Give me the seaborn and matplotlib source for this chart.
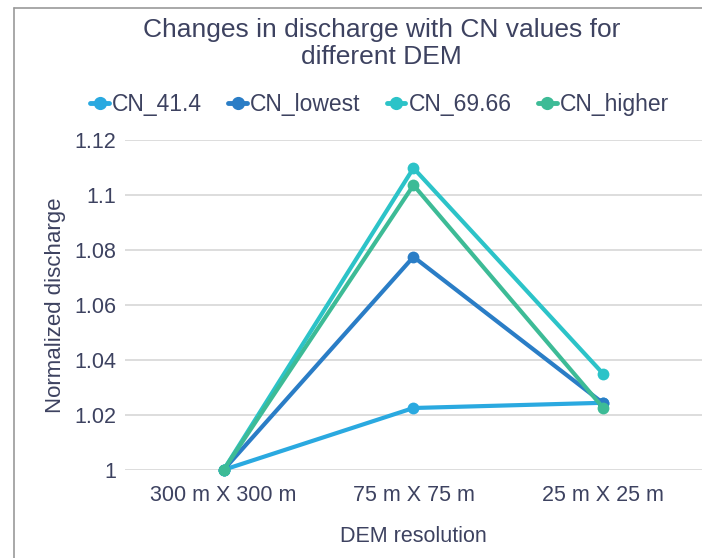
import matplotlib
matplotlib.use("Agg")
import matplotlib.pyplot as plt
from matplotlib.lines import Line2D
import seaborn as sns
import pandas as pd

# Normalized discharge for each CN scenario across DEM resolutions
resolutions = ["300 m X 300 m", "75 m X 75 m", "25 m X 25 m"]
series_names = ["CN_41.4", "CN_lowest", "CN_69.66", "CN_higher"]
cn_41_4 = [1.0, 1.0225, 1.0244]
cn_lowest = [1.0, 1.0775, 1.0242]
cn_69_66 = [1.0, 1.1098, 1.0349]
cn_higher = [1.0, 1.1036, 1.0225]
y_ticks = [1, 1.02, 1.04, 1.06, 1.08, 1.1, 1.12]
y_tick_labels = ["1", "1.02", "1.04", "1.06", "1.08", "1.1", "1.12"]

colors = ["#2aa9e0", "#2a7dc6", "#2cc3c8", "#3dbb96"]
text_color = "#3d4260"

frames = []
for name, vals in zip(series_names, [cn_41_4, cn_lowest, cn_69_66, cn_higher]):
    frames.append(pd.DataFrame({"DEM": resolutions, "value": vals, "series": name}))
df = pd.concat(frames, ignore_index=True)

sns.set_theme(style="white")
plt.rcParams["font.family"] = ["Liberation Sans", "DejaVu Sans"]

fig = plt.figure(figsize=(7.02, 5.58), dpi=100)
ax = fig.add_axes([0.178, 0.158, 0.822, 0.591])

sns.lineplot(data=df, x="DEM", y="value", hue="series", hue_order=series_names,
             palette=colors, marker="o", markersize=8.5, markeredgewidth=0,
             linewidth=3.0, sort=False, legend=False, ax=ax)

ax.set_xlim(-0.52, 2.52)
ax.set_ylim(1.0, 1.12)
ax.set_yticks(y_ticks)
ax.set_yticklabels(y_tick_labels)
ax.grid(axis="y", color="#dadada", linewidth=1.3)
ax.set_axisbelow(True)
for s in ax.spines.values():
    s.set_visible(False)
ax.tick_params(axis="both", length=0, labelsize=15.5, colors=text_color)
ax.tick_params(axis="y", pad=6)
ax.tick_params(axis="x", pad=11)
for lbl in ax.get_xticklabels() + ax.get_yticklabels():
    lbl.set_color(text_color)
ax.set_xlabel("DEM resolution", fontsize=15.5, color=text_color, labelpad=14)
ax.set_ylabel("Normalized discharge", fontsize=16, color=text_color, labelpad=6)
for line in ax.lines:
    line.set_clip_on(False)

fig.text(0.5435, 0.922, "Changes in discharge with CN values for\ndifferent DEM",
         ha="center", va="center", fontsize=19, color=text_color, linespacing=1.2)

handles = [Line2D([0], [0], color=c, marker="o", markersize=9.5, markeredgewidth=0,
                  linewidth=3.5) for c in colors]
fig.legend(handles, series_names, loc="center", bbox_to_anchor=(0.541, 0.812), ncol=4,
           frameon=False, fontsize=16.5, handlelength=0.8, handletextpad=0.15,
           columnspacing=1.15, labelcolor=text_color)

# outer frame lines
fig.add_artist(Line2D([0.02, 0.02], [0.0, 0.986], transform=fig.transFigure,
                      color="#9a9a9a", linewidth=1.2))
fig.add_artist(Line2D([0.02, 1.0], [0.986, 0.986], transform=fig.transFigure,
                      color="#9a9a9a", linewidth=1.2))

fig.savefig("out.png", dpi=100, facecolor="white")
